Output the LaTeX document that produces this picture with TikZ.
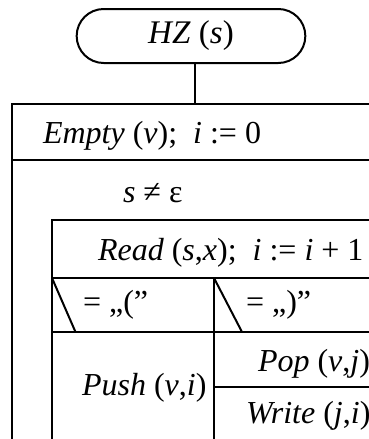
\documentclass[tikz,border=0pt]{standalone}
\usepackage{fontspec}
\setmainfont{Liberation Serif}
\usetikzlibrary{shapes.misc}

\begin{document}
\begin{tikzpicture}[x=0.5pt, y=-0.5pt, line width=1pt,
  txt/.style={anchor=base west, inner sep=0pt, font=\fontsize{16}{19}\selectfont}]
\useasboundingbox (0,0) rectangle (369,439);
\node[draw, rounded rectangle, minimum width=121pt, minimum height=27pt,
  font=\fontsize{16.5}{19}\selectfont] (hz) at (191,36) {\textit{HZ} (\textit{s})};
\coordinate (stem) at (195,104);
\draw (hz.south -| stem) -- (stem);
% outer block
\draw (369,104) -- (12,104) -- (12,439);
\draw (12,160) -- (369,160);
\node[txt] (init) at (42,143) {\textit{Empty} (\textit{v});\ \ \textit{i} := 0};
\node[txt] (loop) at (122,202) {\textit{s} ≠ ε};
% loop body
\draw (369,220) -- (51.5,220) -- (51.5,439);
\draw (51.5,277.5) -- (369,277.5);
\node[txt] (read) at (97,260) {\textit{Read} (\textit{s},\textit{x});\ \ \textit{i} := \textit{i} + 1};
\draw (51.5,332) -- (369,332);
\draw (214,277.5) -- (214,439);
\draw (52,278) -- (75.5,332);
\draw (214,278) -- (242,332);
\node[txt] (open) at (82,312) {= „(”};
\node[txt] (close) at (245,312) {= „)”};
\node[txt] (push) at (81,395) {\textit{Push} (\textit{v},\textit{i})};
\draw (214,386.5) -- (369,386.5);
\node[txt] (pop) at (257,371) {\textit{Pop} (\textit{v},\textit{j})};
\node[txt] (write) at (245,423) {\textit{Write} (\textit{j},\textit{i})};
\end{tikzpicture}
\end{document}
